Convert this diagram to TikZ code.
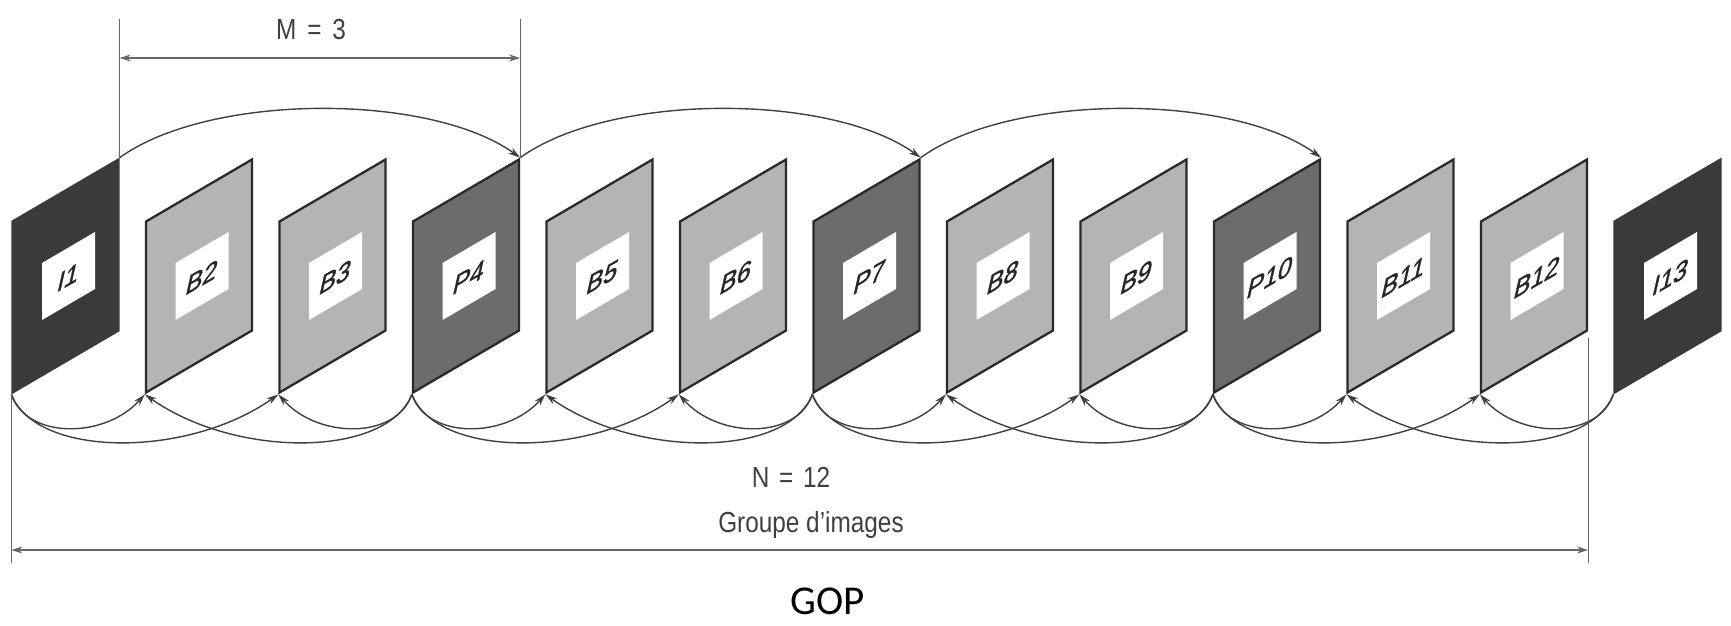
\documentclass[tikz,border=0pt]{standalone}
\usepackage{fontspec}
\usetikzlibrary{arrows.meta,calc}
\newfontfamily\labfont[FakeStretch=0.84]{Liberation Sans}
\newfontfamily\frfont[FakeBold=1.4]{Liberation Sans}
\newfontfamily\gopfont{Carlito}
\definecolor{icol}{HTML}{3A3A3A}
\definecolor{pcol}{HTML}{6C6C6C}
\definecolor{bcol}{HTML}{B4B4B4}
\definecolor{edgecol}{HTML}{2A2A2A}
\definecolor{linecol}{HTML}{404040}
\definecolor{dimcol}{HTML}{666666}
\tikzset{
  frame/.style={minimum width=106pt, minimum height=171pt, inner sep=0pt, yslant=0.585, draw=edgecol, line width=2.3pt},
  frameI/.style={frame, fill=icol, draw=icol},
  frameP/.style={frame, fill=pcol},
  frameB/.style={frame, fill=bcol},
  whitebox/.style={minimum width=53pt, minimum height=57pt, inner sep=0pt, yslant=0.585, fill=white},
  lbl/.style={inner sep=0pt, cm={0.87,0.5,0.22,0.98,(0,0)}, font=\frfont\fontsize{29}{31}\selectfont, text=black!85},
  conn/.style={draw=linecol, line width=1.4pt, -{Stealth[length=12pt,width=7pt]}},
  dim/.style={draw=dimcol, line width=1.2pt},
  dimarrow/.style={dim, {Stealth[length=11pt,width=7pt]}-{Stealth[length=11pt,width=7pt]}},
  txt/.style={inner sep=0pt, anchor=base, text=black!75, font=\labfont\fontsize{29}{32}\selectfont},
}
\begin{document}
\begin{tikzpicture}[x=1pt,y=-1pt]
\useasboundingbox (0,0) rectangle (1731,625);
% frames
\foreach \n/\t in {1/I,2/B,3/B,4/P,5/B,6/B,7/P,8/B,9/B,10/P,11/B,12/B,13/I}{
  \pgfmathsetmacro\cx{65.5+133.5*(\n-1)}
  \node[frame\t] (f\n) at (\cx,276) {};
  \node[whitebox] (w\n) at (\cx+3,276) {};
  \node[lbl] (l\n) at (\cx+3,277) {\t\n};
}
% top arcs (P prediction)
\draw[conn] (f1.north east) .. controls +(90,-65) and +(-90,-65) .. (f4.north east);
\draw[conn] (f4.north east) .. controls +(90,-65) and +(-90,-65) .. (f7.north east);
\draw[conn] (f7.north east) .. controls +(90,-65) and +(-90,-65) .. (f10.north east);
% bottom arcs (B prediction)
\foreach \a/\b/\c/\d in {1/2/3/4,4/5/6/7,7/8/9/10,10/11/12/13}{
  \draw[conn] (f\a.south west) .. controls +(15,45) and +(-40,45) .. (f\b.south west);
  \draw[conn] (f\a.south west) .. controls +(25,64) and +(-90,64) .. (f\c.south west);
  \draw[conn] (f\d.south west) .. controls +(-15,45) and +(40,45) .. (f\c.south west);
  \draw[conn] (f\d.south west) .. controls +(-25,64) and +(90,64) .. (f\b.south west);
}
% M = 3 dimension
\coordinate (yMt) at (0,19);
\coordinate (yM) at (0,58);
\draw[dim] (f1.north east) -- (f1.north east |- yMt);
\draw[dim] (f4.north east) -- (f4.north east |- yMt);
\draw[dimarrow] (f1.north east |- yM) -- (f4.north east |- yM);
\node[txt] (mlab) at (311,39) {M\hspace{4pt} = \hspace{4pt}3};
% N = 12 dimension
\coordinate (yNb) at (0,563);
\coordinate (yN) at (0,550);
\coordinate (b12r) at ($(f12.south east)+(0,7)$);
\draw[dim] (f1.south west) -- (f1.south west |- yNb);
\draw[dim] (b12r) -- (b12r |- yNb);
\draw[dimarrow] (f1.south west |- yN) -- (b12r |- yN);
\node[txt] (nlab) at (791,487) {N\hspace{3pt} = \hspace{3pt}12};
\node[txt] (glab) at (811,532) {Groupe d’images};
\node[inner sep=0pt, anchor=base, font=\gopfont\fontsize{41}{44}\selectfont] (gop) at (828,614) {GOP};
\end{tikzpicture}
\end{document}
